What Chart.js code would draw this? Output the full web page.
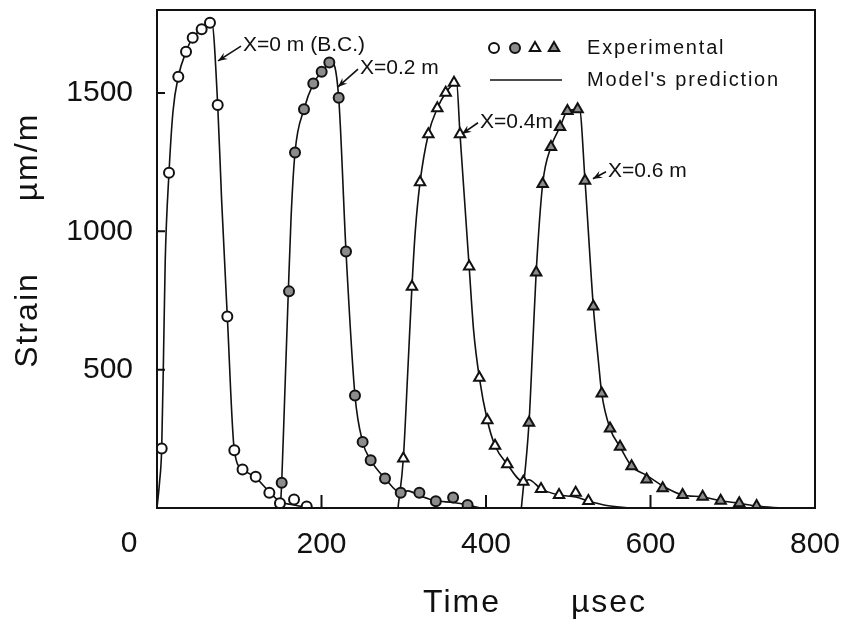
<!DOCTYPE html>
<html>
<head>
<meta charset="utf-8">
<script src="https://cdn.jsdelivr.net/npm/chart.js@4/dist/chart.umd.min.js"></script>
<style>
  html, body { margin: 0; padding: 0; background: #fff; }
  canvas { display: block; }
</style>
</head>
<body>
<canvas id="c" width="848" height="625"></canvas>
<script>
const FONT = '"Liberation Sans", Arial, sans-serif';

// Measured strain (µm/m) against time (µs) at four gauge positions
const exp0T = [5.7, 14.6, 25.9, 35.3, 43.4, 54.3, 64.4, 73.8, 85.5, 94, 104, 120, 136.6, 149.5, 166.6, 182];
const exp0V = [215, 1212, 1559, 1649, 1700, 1730, 1754, 1457, 692, 209, 139, 113, 55, 17, 31, 5];

const exp2T = [151.6, 160.5, 167.8, 178.7, 190, 200.2, 209.5, 220.9, 229.8, 240.7, 250, 259.8, 277.2, 296.3, 319, 339, 360, 377.6];
const exp2V = [91, 783, 1285, 1441, 1534, 1577, 1610, 1483, 927, 407, 239, 173, 107, 55, 55, 24, 38, 11];

const exp4T = [299.5, 310, 319.8, 329.9, 340.8, 351, 361.1, 368.4, 379.5, 391.9, 401.6, 411, 425.9, 445.4, 466.9, 488.8, 509, 524.5];
const exp4V = [179, 800, 1177, 1351, 1445, 1501, 1537, 1351, 873, 471, 317, 225, 158, 95, 69, 47, 55, 25];

const exp6T = [452.3, 461, 468.9, 479, 490, 499, 511.4, 520.4, 530.5, 540.7, 550.8, 563, 577, 595.3, 614.8, 639, 663.4, 685.3, 707.9, 729];
const exp6V = [308, 851, 1171, 1305, 1377, 1435, 1441, 1183, 728, 414, 287, 221, 151, 103, 71, 47, 41, 26, 17, 7];

// Model's prediction curves
const mod0T = [0, 3, 5.7, 8, 10, 14.6, 19.5, 25.9, 35.3, 43.4, 54.3, 64.4, 66.5, 73.8, 78.6, 85.5, 94, 104, 120, 136.6, 150, 165, 180, 190];
const mod0V = [0, 90, 215, 560, 894, 1212, 1435, 1559, 1649, 1700, 1730, 1754, 1756, 1457, 1111, 692, 209, 140, 110, 58, 22, 12, 4, 0];

const mod2T = [150, 151.6, 155, 159.3, 163, 167.8, 178.7, 190, 200.2, 209.5, 212, 220.9, 229.8, 240.7, 250, 259.8, 277.2, 296.3, 305, 319, 339, 360, 377.6, 393];
const mod2V = [0, 91, 380, 751, 1050, 1285, 1441, 1534, 1577, 1610, 1615, 1483, 927, 407, 239, 173, 107, 55, 62, 45, 26, 20, 11, 0];

const mod4T = [293, 299.5, 305, 310, 314, 319.8, 329.9, 340.8, 351, 361.1, 364, 368.4, 379.5, 385, 391.9, 401.6, 411, 425.9, 445.4, 452, 466.9, 488.8, 509, 524.5, 545, 576];
const mod4V = [0, 179, 500, 803, 1000, 1177, 1351, 1445, 1501, 1537, 1545, 1351, 873, 640, 471, 317, 225, 158, 95, 102, 69, 47, 40, 25, 10, 0];

const mod6T = [443, 452.3, 457, 461, 468.9, 479, 490, 499, 511.4, 513.5, 520.4, 530.5, 537, 540.7, 550.8, 563, 577, 595.3, 614.8, 639, 663.4, 685.3, 707.9, 729, 760];
const mod6V = [0, 308, 600, 851, 1171, 1305, 1377, 1435, 1441, 1445, 1183, 728, 520, 414, 287, 221, 151, 118, 80, 47, 40, 26, 17, 7, 0];

// Axis ticks
const xTicks = [0, 200, 400, 600, 800];
const yTicks = [0, 500, 1000, 1500];

// Curve labels with their arrow tips and text anchors (data units)
const curveLabels = ['X=0 m (B.C.)', 'X=0.2 m', 'X=0.4m', 'X=0.6 m'];
const arrowTipT = [74.2, 220, 370.8, 530];
const arrowTipV = [1616, 1522, 1352, 1190];
const labelT = [104.6, 246.8, 392.7, 548.3];
const labelV = [1673, 1590, 1396, 1219];

const pts = (ts, vs) => ts.map((t, i) => ({ x: t, y: vs[i] }));

const GRAY = '#8c8c8c';
const INK = '#111';

function expSet(label, ts, vs, style, fill, r) {
  return {
    type: 'line', label, data: pts(ts, vs), showLine: false,
    pointStyle: style, pointRadius: r, pointHoverRadius: r,
    pointBackgroundColor: fill, pointBorderColor: INK, pointBorderWidth: 2,
    order: 0
  };
}
function modelSet(label, ts, vs) {
  return {
    type: 'line', label, data: pts(ts, vs),
    borderColor: INK, borderWidth: 1.6, pointRadius: 0,
    cubicInterpolationMode: 'monotone', fill: false, order: 1
  };
}

const decor = {
  id: 'decor',
  afterDraw(chart) {
    const { ctx, chartArea: a, scales: { x, y } } = chart;
    ctx.save();
    ctx.strokeStyle = INK;
    ctx.fillStyle = INK;

    // plot frame
    ctx.lineWidth = 2;
    ctx.strokeRect(a.left, a.top, a.right - a.left, a.bottom - a.top);

    // inward tick marks
    ctx.beginPath();
    xTicks.forEach(v => {
      if (v <= x.min || v >= x.max) return;
      const px = x.getPixelForValue(v);
      ctx.moveTo(px, a.bottom); ctx.lineTo(px, a.bottom - 13);
    });
    yTicks.forEach(v => {
      if (v <= y.min) return;
      const py = y.getPixelForValue(v);
      ctx.moveTo(a.left, py); ctx.lineTo(a.left + 8, py);
    });
    ctx.stroke();

    // shared origin label
    ctx.font = '30px ' + FONT;
    ctx.textAlign = 'center';
    ctx.textBaseline = 'middle';
    ctx.fillText('0', a.left - 28, a.bottom + 36);

    // axis titles
    ctx.font = '32px ' + FONT;
    ctx.letterSpacing = '2px';
    ctx.fillText('Time', a.left + 305, a.bottom + 95);
    ctx.fillText('\u00b5sec', a.left + 452, a.bottom + 95);
    ctx.save();
    ctx.translate(28, a.top + 147);
    ctx.rotate(-Math.PI / 2);
    ctx.fillText('\u00b5m/m', 0, 0);
    ctx.restore();
    ctx.save();
    ctx.translate(28, a.top + 310);
    ctx.rotate(-Math.PI / 2);
    ctx.fillText('Strain', 0, 0);
    ctx.restore();

    // legend
    const ly1 = a.top + 38, ly2 = a.top + 70;
    const sym = [
      ['circle', '#fff', 5], ['circle', GRAY, 5],
      ['triangle', '#fff', 6], ['triangle', GRAY, 6]
    ];
    const symX = [494, 515, 535, 554];
    ctx.lineWidth = 2;
    sym.forEach((s, i) => {
      ctx.fillStyle = s[1];
      ctx.strokeStyle = INK;
      Chart.helpers.drawPoint(ctx, { pointStyle: s[0], radius: s[2], rotation: 0, borderWidth: 2 }, symX[i], ly1);
    });
    ctx.lineWidth = 1.6;
    ctx.beginPath(); ctx.moveTo(490, ly2); ctx.lineTo(562, ly2); ctx.stroke();
    ctx.fillStyle = INK;
    ctx.font = '20px ' + FONT;
    ctx.letterSpacing = '1.8px';
    ctx.textAlign = 'left';
    ctx.fillText('Experimental', 587, ly1);
    ctx.fillText("Model's prediction", 587, ly2);

    // curve labels with arrows
    ctx.font = '21px ' + FONT;
    ctx.letterSpacing = '0px';
    curveLabels.forEach((txt, i) => {
      const tx = x.getPixelForValue(labelT[i]);
      const ty = y.getPixelForValue(labelV[i]);
      const hx = x.getPixelForValue(arrowTipT[i]);
      const hy = y.getPixelForValue(arrowTipV[i]);
      ctx.fillText(txt, tx, ty);
      const sx = tx - 2, sy = ty + 1;
      const ang = Math.atan2(hy - sy, hx - sx);
      ctx.lineWidth = 1.6;
      ctx.beginPath(); ctx.moveTo(sx, sy); ctx.lineTo(hx, hy); ctx.stroke();
      const L = 10, W = 0.38;
      ctx.beginPath();
      ctx.moveTo(hx, hy);
      ctx.lineTo(hx - L * Math.cos(ang - W), hy - L * Math.sin(ang - W));
      ctx.lineTo(hx - L * 0.6 * Math.cos(ang), hy - L * 0.6 * Math.sin(ang));
      ctx.lineTo(hx - L * Math.cos(ang + W), hy - L * Math.sin(ang + W));
      ctx.closePath();
      ctx.fill();
    });
    ctx.restore();
  }
};

new Chart(document.getElementById('c'), {
  type: 'line',
  data: {
    datasets: [
      expSet('X=0 m', exp0T, exp0V, 'circle', '#fff', 5),
      expSet('X=0.2 m', exp2T, exp2V, 'circle', GRAY, 5),
      expSet('X=0.4 m', exp4T, exp4V, 'triangle', '#fff', 6),
      expSet('X=0.6 m', exp6T, exp6V, 'triangle', GRAY, 6),
      modelSet('Model X=0 m', mod0T, mod0V),
      modelSet('Model X=0.2 m', mod2T, mod2V),
      modelSet('Model X=0.4 m', mod4T, mod4V),
      modelSet('Model X=0.6 m', mod6T, mod6V)
    ]
  },
  options: {
    responsive: false,
    devicePixelRatio: 1,
    animation: false,
    layout: { padding: { left: 0, top: 10, right: 33, bottom: 0 } },
    plugins: { legend: { display: false }, tooltip: { enabled: false } },
    scales: {
      x: {
        type: 'linear', min: 0, max: 800, position: 'bottom',
        afterBuildTicks: s => { s.ticks = xTicks.map(v => ({ value: v })); },
        afterFit: s => { s.height = 117; s.paddingLeft = 0; s.paddingRight = 0; },
        grid: { display: false, drawTicks: false },
        border: { display: false },
        ticks: {
          padding: 19, color: INK, maxRotation: 0, autoSkip: false,
          font: { family: FONT, size: 30 },
          callback: v => (v === 0 ? '' : String(v))
        }
      },
      y: {
        type: 'linear', min: 0, max: 1800, position: 'left',
        afterBuildTicks: s => { s.ticks = yTicks.map(v => ({ value: v })); },
        afterFit: s => { s.width = 157; s.paddingTop = 0; s.paddingBottom = 0; },
        grid: { display: false, drawTicks: false },
        border: { display: false },
        ticks: {
          padding: 24, color: INK, autoSkip: false,
          font: { family: FONT, size: 30 },
          callback: v => (v === 0 ? '' : String(v))
        }
      }
    }
  },
  plugins: [decor]
});
</script>
</body>
</html>
